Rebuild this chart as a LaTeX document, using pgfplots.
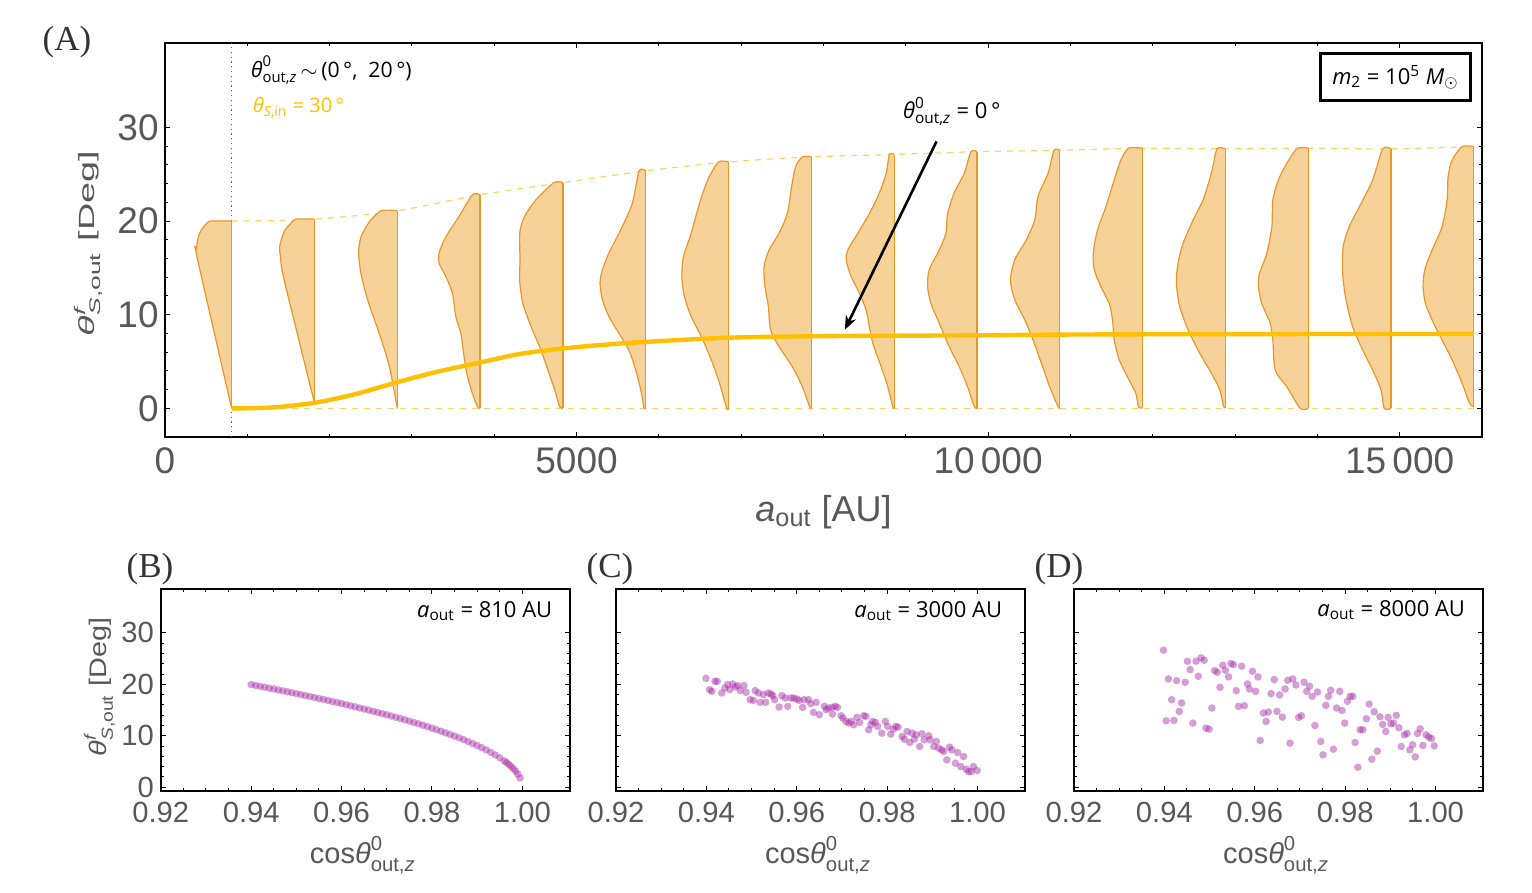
\documentclass[border=0pt]{standalone}
\usepackage{fontspec}
\usepackage{amsmath}
\usepackage{graphicx}
\usepackage{pgfplots}
\pgfplotsset{compat=1.18}
\usetikzlibrary{arrows.meta}
\setmainfont{Liberation Sans}
\newfontfamily\ann{Open Sans}
\newfontfamily\lab{Liberation Serif}
\definecolor{tickgray}{RGB}{88,88,88}
\definecolor{vfill}{RGB}{246,210,152}
\definecolor{vedge}{RGB}{232,152,40}
\definecolor{gold}{RGB}{255,192,0}
\definecolor{golddash}{RGB}{255,212,90}
\definecolor{purp}{RGB}{165,40,165}

\pgfplotsset{
  mathframe/.style={
    scale only axis,
    axis line style={black, line width=1pt},
    tick pos=both,
    tick align=inside,
    major tick length=2.5pt,
    minor tick length=1.5pt,
    tick style={black, line width=0.5pt},
    /pgf/number format/assume math mode=true,
    scaled ticks=false,
  },
  bot/.style={
    mathframe,
    anchor=south west,
    width=204.5pt, height=101pt,
    xmin=0.92, xmax=1.0105, ymin=-0.65, ymax=38.6,
    xtick={0.92,0.94,0.96,0.98,1.00}, ytick={0,10,20,30},
    minor x tick num=3, minor y tick num=4,
    /pgf/number format/fixed, /pgf/number format/fixed zerofill, /pgf/number format/precision=2,
    tick label style={font=\fontsize{14.6}{16}\selectfont, text=tickgray},
    xticklabel style={inner sep=0pt, yshift=-5.4pt},
    yticklabel style={inner sep=0pt, xshift=-3.3pt, /pgf/number format/precision=0},
    xlabel={cos\(\textit{θ}^{\text{0}}_{\text{out,\itshape z}}\)},
    xlabel style={at={(axis description cs:0.494,-0.319)}, anchor=center, inner sep=0pt,
      font=\fontsize{14.5}{16}\selectfont, text=tickgray},
  },
  scat/.style={purp, only marks, mark=*, mark size=1.9pt,
    mark options={fill=purp, fill opacity=0.45, draw opacity=0}},
  vstyle/.style={draw=vedge, fill=vfill, line width=0.6pt, smooth, tension=0.45, line join=round},
}

\newcommand{\violin}[4]{%
  \addplot[vstyle] table[x expr={#1-\thisrow{w}}, y=y, row sep=\\]{#4};
  \addplot[vedge, line width=0.6pt] coordinates {(#1,#2) (#1,#3)};
}

\begin{document}
\begin{tikzpicture}
\useasboundingbox (0pt,0pt) rectangle (766pt,-446.5pt);

% ---------------- panel A ----------------
\begin{axis}[mathframe,
  at={(82.5pt,-218.5pt)}, anchor=south west,
  width=658.5pt, height=197pt,
  xmin=0, xmax=16000, ymin=-3.05, ymax=39,
  xtick={0,5000,10000,15000}, xticklabels={0,5000,10\,000,15\,000},
  ytick={0,10,20,30},
  minor x tick num=4, minor y tick num=4,
  tick label style={font=\fontsize{18.5}{20}\selectfont, text=tickgray},
  xticklabel style={inner sep=0pt, yshift=-5pt},
  yticklabel style={inner sep=0pt, xshift=-3pt},
  xlabel={\(\textit{a}_{\text{out}}\) [AU]},
  xlabel style={at={(axis description cs:0.5,-0.19)}, anchor=center, inner sep=0pt,
    font=\fontsize{18}{20}\selectfont, text=tickgray},
  ylabel={\scalebox{1.72}[1]{\(\textit{θ}^{\textit{f}}_{\text{\itshape S\upshape,out}}\) [Deg]}},
  ylabel style={at={(axis description cs:-0.0585,0.491)}, anchor=center, inner sep=0pt,
    font=\fontsize{11}{12}\selectfont, text=tickgray},
]
\addplot[black!65, line width=0.6pt, dash pattern=on 0.6pt off 1.8pt] coordinates {(810,-3.05) (810,39)};
\addplot[golddash, dashed, line width=0.6pt, smooth] coordinates {
 (810,20.0) (1816,20.2) (2822,21.1) (3828,22.8) (4834,24.1) (5840,25.35) (6846,26.3)
 (7852,26.84) (8858,27.1) (9864,27.4) (10870,27.55) (11876,27.77) (12882,27.7)
 (13888,27.77) (14894,27.7) (15900,27.94)};
\addplot[golddash, dashed, line width=0.6pt] coordinates {(810,0) (15900,0)};

\violin{810}{0}{20.0}{w y\\ 0 20.0\\ 255 20.0\\ 300 19.75\\ 350 19.3\\ 395 18.6\\ 418 17.8\\ 425 17.0\\ 422 16.2\\ 0 0.0\\}
\violin{1816}{0.6}{20.2}{w y\\ 0 20.2\\ 227 20.2\\ 292 19.7\\ 368 18.9\\ 422 17.3\\ 413 16.2\\ 368 13.7\\ 0 0.6\\}
\violin{2822}{0}{21.1}{w y\\ 0 21.1\\ 198 21.1\\ 340 19.9\\ 441 18.3\\ 470 16.6\\ 441 14.4\\ 361 11.6\\ 219 8.0\\ 97 4.5\\ 0 0.0\\}
\violin{3828}{0}{22.8}{w y\\ 0 22.8\\ 94 22.8\\ 255 20.5\\ 417 18.3\\ 498 16.6\\ 498 15.5\\ 417 14.1\\ 337 12.3\\ 295 9.8\\ 234 8.0\\ 194 5.5\\ 154 3.4\\ 94 1.6\\ 33 0.2\\ 0 0.0\\}
\violin{4834}{0}{24.1}{w y\\ 0 24.1\\ 109 24.1\\ 324 22.3\\ 465 20.5\\ 519 19.1\\ 526 18.0\\ 521 15.8\\ 526 13.7\\ 486 11.2\\ 385 8.7\\ 283 6.6\\ 182 4.1\\ 101 2.0\\ 40 0.2\\ 0 0.0\\}
\violin{5840}{0}{25.35}{w y\\ 0 25.35\\ 81 25.35\\ 162 21.9\\ 304 19.05\\ 446 16.6\\ 526 14.8\\ 555 13.4\\ 526 11.6\\ 446 9.8\\ 324 8.0\\ 203 6.2\\ 122 4.1\\ 61 2.0\\ 21 0.05\\ 0 0.0\\}
\violin{6846}{0}{26.3}{w y\\ 0 26.3\\ 122 26.3\\ 252 24.4\\ 352 21.9\\ 453 18.7\\ 547 16.2\\ 567 14.1\\ 535 11.9\\ 453 9.8\\ 332 7.7\\ 210 5.2\\ 109 2.7\\ 21 0.0\\ 0 0.0\\}
\violin{7852}{0}{26.84}{w y\\ 0 26.84\\ 109 26.84\\ 191 25.8\\ 239 23.7\\ 292 20.8\\ 392 18.7\\ 514 16.9\\ 575 15.1\\ 563 13.0\\ 522 10.9\\ 495 8.4\\ 392 6.6\\ 231 4.46\\ 109 2.3\\ 21 0.2\\ 0 0.0\\}
\violin{8858}{0}{27.1}{w y\\ 0 27.1\\ 57 27.1\\ 97 25.1\\ 179 23.0\\ 300 20.8\\ 441 18.7\\ 563 16.9\\ 583 15.85\\ 522 14.07\\ 422 12.3\\ 340 10.5\\ 300 8.7\\ 259 6.96\\ 158 4.46\\ 77 2.3\\ 16 0.2\\ 0 0.0\\}
\violin{9864}{0}{27.4}{w y\\ 0 27.4\\ 73 27.4\\ 154 25.1\\ 276 23.0\\ 356 20.8\\ 377 18.7\\ 458 16.9\\ 580 14.8\\ 599 13.0\\ 559 11.2\\ 458 9.1\\ 337 6.6\\ 215 4.46\\ 113 2.3\\ 33 0.2\\ 0 0.0\\}
\violin{10870}{0}{27.55}{w y\\ 0 27.55\\ 69 27.55\\ 142 25.1\\ 264 22.6\\ 304 20.1\\ 405 18.0\\ 547 15.85\\ 599 13.7\\ 547 11.6\\ 425 9.45\\ 324 7.3\\ 222 4.8\\ 122 2.3\\ 21 0.2\\ 0 0.0\\}
\violin{11876}{0.1}{27.77}{w y\\ 0 27.77\\ 170 27.77\\ 264 26.5\\ 344 24.4\\ 446 21.5\\ 547 19.05\\ 599 16.56\\ 587 14.8\\ 507 13.0\\ 405 11.2\\ 365 9.45\\ 344 7.3\\ 283 5.2\\ 162 3.0\\ 81 1.6\\ 49 0.1\\ 0 0.1\\}
\violin{12882}{0}{27.7}{w y\\ 0 27.7\\ 101 27.7\\ 170 25.1\\ 271 22.25\\ 392 20.1\\ 514 17.6\\ 575 15.5\\ 595 13.4\\ 555 10.9\\ 453 8.4\\ 312 5.9\\ 170 3.76\\ 69 2.0\\ 21 0.2\\ 0 0.1\\}
\violin{13888}{0}{27.77}{w y\\ 0 27.77\\ 130 27.77\\ 259 26.17\\ 361 24.4\\ 429 22.25\\ 441 19.4\\ 502 16.56\\ 592 14.4\\ 604 13.0\\ 563 11.2\\ 462 9.1\\ 429 7.3\\ 401 4.1\\ 259 2.3\\ 97 0.0\\ 0 0.0\\}
\violin{14894}{0}{27.7}{w y\\ 0 27.7\\ 101 27.7\\ 222 24.4\\ 385 21.5\\ 507 19.4\\ 580 17.3\\ 587 14.4\\ 547 11.6\\ 465 8.7\\ 344 6.24\\ 222 4.1\\ 122 2.0\\ 81 0.0\\ 0 0.0\\}
\violin{15900}{0.2}{27.94}{w y\\ 0 27.94\\ 142 27.94\\ 264 26.5\\ 312 24.7\\ 324 22.25\\ 385 19.4\\ 507 16.9\\ 595 14.8\\ 616 13.0\\ 587 11.2\\ 507 9.45\\ 385 7.3\\ 264 5.2\\ 142 2.7\\ 52 0.55\\ 0 0.2\\}

\addplot[gold, line width=2.2pt, smooth, tension=0.5] coordinates {
 (810,0) (1300,0.1) (1816,0.6) (2300,1.5) (2822,2.8) (3300,3.9) (3828,4.9) (4300,5.8)
 (4834,6.4) (5340,6.8) (5840,7.1) (6846,7.55) (7852,7.7) (8858,7.76) (9864,7.8)
 (10870,7.88) (12882,7.93) (15900,7.95)};

\draw[-{Stealth[length=7pt,width=5.5pt]}, line width=1.3pt] (axis cs:9373,28.5) -- (axis cs:8259,8.4);
\node[font=\ann\fontsize{11}{13}\selectfont, inner sep=0pt] at (axis cs:9559,31.7)
  {\(\textit{θ}^{\text{0}}_{\text{out,\itshape z}}\) = 0\,°};
\node[font=\ann\fontsize{10.6}{12}\selectfont, inner sep=0pt, anchor=west] at (axis cs:1041,36.1)
  {\(\textit{θ}^{\text{0}}_{\text{out,\itshape z}}\)\,\(\sim\)\,(0\,°,\ \ 20\,°)};
\node[font=\ann\fontsize{10}{12}\selectfont, inner sep=0pt, anchor=west, text=gold] at (axis cs:1065,32.1)
  {\(\textit{θ}_{\text{\itshape S\upshape,in}}\) = 30\,°};
\node[font=\ann\fontsize{11}{13}\selectfont, draw=black, line width=1.5pt, minimum width=75pt,
  minimum height=23.3pt, inner sep=2pt, fill=white] at (axis cs:14948,35.35)
  {\(\textit{m}_{\text{2}}\) = 10\(^{\text{5}}\) \(\textit{M}_{\odot}\)};
\end{axis}

% ---------------- panel B ----------------
\begin{axis}[bot, at={(80.4pt,-395.3pt)},
  ylabel={\scalebox{1.2}[1]{\(\textit{θ}^{\textit{f}}_{\text{\itshape S\upshape,out}}\) [Deg]}},
  ylabel style={at={(axis description cs:-0.1495,0.513)}, anchor=center, inner sep=0pt,
    font=\fontsize{12}{14}\selectfont, text=tickgray},
]
\addplot[scat] coordinates {
(0.940,19.95)(0.941,19.78)(0.942,19.61)(0.943,19.43)(0.944,19.26)(0.945,19.09)(0.946,18.91)
(0.947,18.73)(0.948,18.56)(0.949,18.37)(0.950,18.19)(0.951,18.00)(0.952,17.82)(0.953,17.63)
(0.954,17.44)(0.955,17.25)(0.956,17.06)(0.957,16.86)(0.958,16.66)(0.959,16.46)(0.960,16.26)
(0.961,16.05)(0.962,15.84)(0.963,15.63)(0.964,15.41)(0.965,15.19)(0.966,14.97)(0.967,14.75)
(0.968,14.53)(0.969,14.30)(0.970,14.07)(0.971,13.84)(0.972,13.60)(0.973,13.36)(0.974,13.11)
(0.975,12.84)(0.976,12.58)(0.977,12.32)(0.978,12.05)(0.979,11.77)(0.980,11.48)(0.981,11.19)
(0.982,10.89)(0.983,10.58)(0.984,10.26)(0.985,9.94)(0.986,9.60)(0.987,9.25)(0.988,8.88)
(0.989,8.50)(0.990,8.11)(0.991,7.69)(0.992,7.25)(0.993,6.78)(0.994,6.28)(0.995,5.73)
(0.996,5.13)(0.9965,4.80)(0.997,4.44)(0.9975,4.05)(0.998,3.62)(0.9985,3.14)(0.999,2.56)(0.9995,1.81)};
\node[font=\ann\fontsize{11}{13}\selectfont, inner sep=0pt, anchor=east] at (axis cs:1.0067,34.2)
  {\(\textit{a}_{\text{out}}\) = 810 AU};
\end{axis}

% ---------------- panel C ----------------
\begin{axis}[bot, at={(308pt,-395.3pt)}, yticklabels={}]
\addplot[scat] coordinates {
(0.9399,21.18)(0.9407,18.97)(0.9412,18.64)(0.9419,20.59)(0.9424,20.59)(0.9434,18.32)(0.9441,19.29)
(0.9447,19.94)(0.9452,18.97)(0.9458,20.07)(0.9464,19.49)(0.9469,19.75)(0.9475,18.77)(0.9483,19.75)
(0.9488,18.45)(0.9497,17.02)(0.9504,16.89)(0.9508,18.77)(0.9515,18.32)(0.9519,16.50)(0.9526,17.99)
(0.9531,16.50)(0.9537,18.32)(0.9543,18.12)(0.9547,17.80)(0.9551,17.02)(0.9561,15.59)(0.9567,17.80)
(0.9574,17.34)(0.9580,15.72)(0.9587,17.34)(0.9593,17.34)(0.9600,17.15)(0.9605,16.89)(0.9613,15.52)
(0.9616,17.02)(0.9626,17.02)(0.9631,16.24)(0.9637,14.55)(0.9643,16.50)(0.9650,14.09)(0.9661,15.72)
(0.9665,15.07)(0.9670,15.39)(0.9678,15.52)(0.9679,14.22)(0.9685,15.72)(0.9690,15.52)(0.9698,13.90)
(0.9702,13.44)(0.9709,12.79)(0.9715,12.47)(0.9720,12.79)(0.9726,12.14)(0.9733,13.57)(0.9739,12.60)
(0.9748,13.90)(0.9753,13.77)(0.9759,11.17)(0.9764,12.14)(0.9768,12.79)(0.9774,12.60)(0.9779,11.82)
(0.9788,10.52)(0.9796,12.79)(0.9801,11.82)(0.9808,10.32)(0.9814,11.30)(0.9819,11.82)(0.9824,11.69)
(0.9833,9.87)(0.9838,9.35)(0.9844,10.84)(0.9850,8.70)(0.9855,10.52)(0.9860,9.35)(0.9864,10.19)
(0.9872,7.92)(0.9877,10.39)(0.9882,9.22)(0.9892,10.00)(0.9895,9.22)(0.9903,7.92)(0.9909,8.90)
(0.9914,7.60)(0.9921,7.27)(0.9925,6.95)(0.9932,5.32)(0.9938,7.79)(0.9943,7.27)(0.9951,4.67)
(0.9956,6.75)(0.9963,4.02)(0.9969,5.97)(0.9975,3.50)(0.9980,3.05)(0.9986,3.05)(0.9991,4.02)(0.9999,3.24)};
\node[font=\ann\fontsize{11}{13}\selectfont, inner sep=0pt, anchor=east] at (axis cs:1.0055,34.2)
  {\(\textit{a}_{\text{out}}\) = 3000 AU};
\end{axis}

% ---------------- panel D ----------------
\begin{axis}[bot, at={(537pt,-395.3pt)}, yticklabels={}]
\addplot[scat] coordinates {
(0.9398,26.63)(0.9409,21.05)(0.9427,20.72)(0.9446,20.40)(0.9416,17.02)(0.9404,12.92)(0.9421,12.99)
(0.9438,16.37)(0.9433,14.74)(0.9451,24.49)(0.9457,22.87)(0.9470,24.49)(0.9475,21.57)(0.9481,25.14)
(0.9488,24.68)(0.9463,12.47)(0.9492,11.49)(0.9499,11.30)(0.9505,15.39)(0.9511,22.67)(0.9517,22.35)
(0.9523,19.42)(0.9529,23.71)(0.9535,22.74)(0.9542,21.44)(0.9547,24.04)(0.9553,23.84)(0.9559,18.77)
(0.9564,15.72)(0.9571,23.52)(0.9577,15.85)(0.9584,20.07)(0.9588,19.10)(0.9595,22.54)(0.9602,18.64)
(0.9607,21.44)(0.9612,9.09)(0.9619,14.42)(0.9625,12.79)(0.9630,14.61)(0.9636,18.19)(0.9643,20.92)
(0.9649,14.74)(0.9655,17.93)(0.9661,13.64)(0.9667,19.10)(0.9673,20.79)(0.9678,8.57)(0.9684,21.05)
(0.9691,19.88)(0.9697,13.57)(0.9703,13.90)(0.9709,20.40)(0.9715,18.64)(0.9721,19.62)(0.9727,17.67)
(0.9733,12.01)(0.9739,18.51)(0.9746,8.90)(0.9751,6.30)(0.9757,15.91)(0.9763,17.67)(0.9768,18.84)
(0.9774,7.40)(0.9781,15.39)(0.9788,18.64)(0.9793,14.94)(0.9799,12.47)(0.9805,16.69)(0.9811,17.67)
(0.9817,17.67)(0.9822,8.70)(0.9828,3.89)(0.9833,11.17)(0.9839,11.17)(0.9847,13.31)(0.9853,16.17)
(0.9859,5.45)(0.9864,14.68)(0.9871,7.01)(0.9877,13.70)(0.9883,12.21)(0.9890,10.84)(0.9895,13.57)
(0.9901,12.34)(0.9907,12.47)(0.9913,13.96)(0.9919,11.56)(0.9924,7.92)(0.9931,10.19)(0.9937,10.45)
(0.9943,7.27)(0.9949,8.25)(0.9955,5.91)(0.9960,10.45)(0.9966,11.36)(0.9972,8.12)(0.9979,10.19)
(0.9985,9.74)(0.9991,9.48)(0.9997,8.05)};
\node[font=\ann\fontsize{11}{13}\selectfont, inner sep=0pt, anchor=east] at (axis cs:1.0066,34.4)
  {\(\textit{a}_{\text{out}}\) = 8000 AU};
\end{axis}

\node[font=\lab\fontsize{17.5}{20}\selectfont, text=black!80, inner sep=0pt] at (33.5pt,-21pt) {(A)};
\node[font=\lab\fontsize{17.5}{20}\selectfont, text=black!80, inner sep=0pt] at (75pt,-284.5pt) {(B)};
\node[font=\lab\fontsize{17.5}{20}\selectfont, text=black!80, inner sep=0pt] at (305pt,-284.5pt) {(C)};
\node[font=\lab\fontsize{17.5}{20}\selectfont, text=black!80, inner sep=0pt] at (529.5pt,-284.5pt) {(D)};
\end{tikzpicture}
\end{document}
